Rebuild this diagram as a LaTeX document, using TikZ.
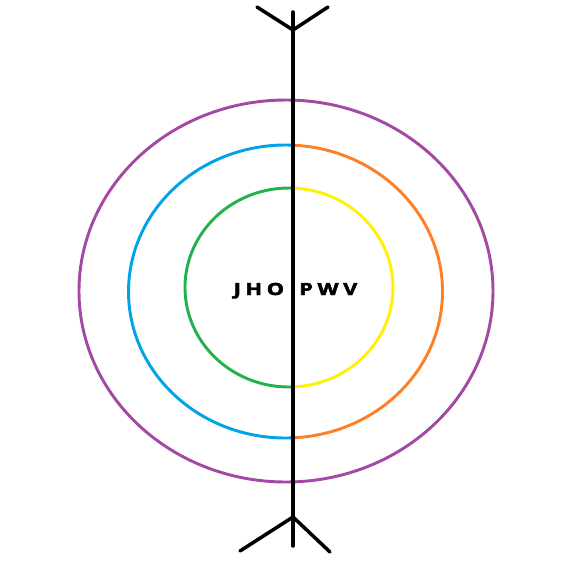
\documentclass[tikz,border=0pt]{standalone}
\usepackage{fontspec}
\newfontfamily\wordfont{Open Sans}[BoldFeatures={FakeBold=2.5}]
\usepackage{graphicx}
\usepackage{tikz}
\usetikzlibrary{positioning}
\definecolor{ringpurple}{HTML}{A349A4}
\definecolor{ringblue}{HTML}{00A2E8}
\definecolor{ringorange}{HTML}{FF7F27}
\definecolor{ringgreen}{HTML}{22B14C}
\definecolor{ringyellow}{HTML}{FFF200}

\begin{document}
\begin{tikzpicture}[x=0.03cm, y=-0.03cm, line cap=round, line join=round,
  ring/.style={line width=2.5pt},
  stick/.style={line width=3pt, black},
  word/.style={font=\wordfont\bfseries\fontsize{14.3}{14.3}\selectfont, inner sep=0pt}]
\useasboundingbox (0,0) rectangle (579,577);
\draw[ring, ringpurple] (286,291) ellipse [x radius=207, y radius=191];
\draw[ring, ringblue] (285.5,291.5) ++(87.3:157 and 146.5)
  arc[start angle=87.3, end angle=272.7, x radius=157, y radius=146.5];
\draw[ring, ringorange] (285.5,291.5) ++(-87.3:157 and 146.5)
  arc[start angle=-87.3, end angle=87.3, x radius=157, y radius=146.5];
\draw[ring, ringgreen] (289,287.5) ++(87.8:104 and 99.5)
  arc[start angle=87.8, end angle=272.2, x radius=104, y radius=99.5];
\draw[ring, ringyellow] (289,287.5) ++(-87.8:104 and 99.5)
  arc[start angle=-87.8, end angle=87.8, x radius=104, y radius=99.5];
\coordinate (tip) at (293,12);
\coordinate (tail) at (293,546);
\coordinate (topV) at (293,30);
\coordinate (topL) at (257,7);
\coordinate (topR) at (328,7);
\coordinate (botV) at (293,517);
\coordinate (botL) at (240,551);
\coordinate (botR) at (330,552);
\draw[stick] (tip) -- (tail);
\draw[stick] (topV) -- (topL);
\draw[stick] (topV) -- (topR);
\draw[stick] (botV) -- (botL);
\draw[stick] (botV) -- (botR);
\node[word, anchor=base west] (name) at (233.5,295)
  {\scalebox{1.3}[1]{\spaceskip=3pt J H O\hspace{7pt} P W V}};
\end{tikzpicture}
\end{document}
